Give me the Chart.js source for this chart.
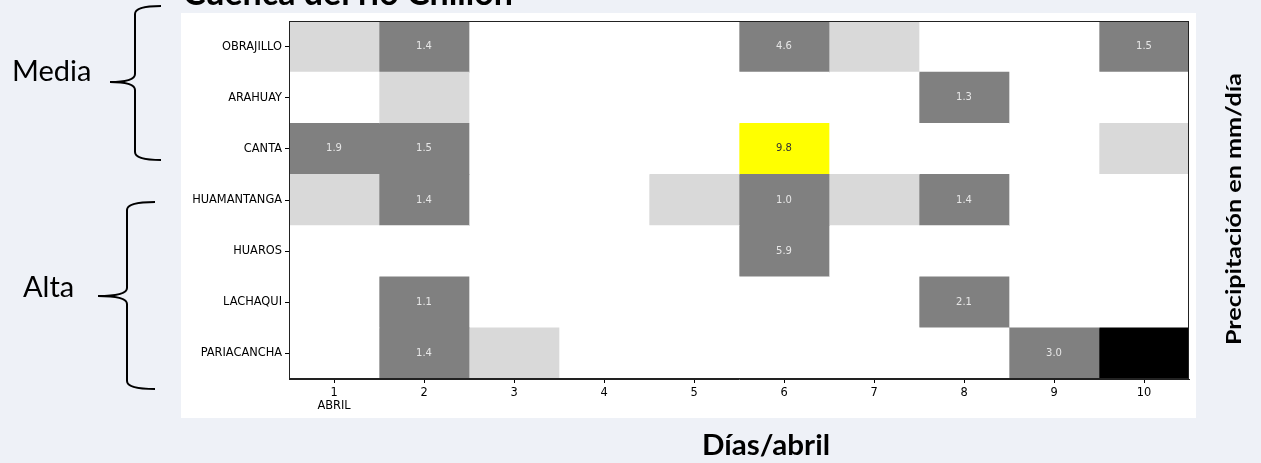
<!DOCTYPE html>
<html>
<head>
<meta charset="utf-8">
<script src="https://cdn.jsdelivr.net/npm/chart.js@4/dist/chart.umd.min.js"></script>
<style>
  html, body { margin: 0; padding: 0; }
  body { width: 1261px; height: 463px; background: #eef1f7; position: relative; overflow: hidden; }
  #panel { position: absolute; left: 181px; top: 13px; width: 1015px; height: 405px; background: #ffffff; }
  #c { position: absolute; left: 0; top: 0; }
  #ov { position: absolute; left: 0; top: 0; pointer-events: none; }
</style>
</head>
<body>
<div id="panel"></div>
<canvas id="c" width="1261" height="463" style="width:1261px;height:463px"></canvas>
<svg id="ov" width="1261" height="463" xmlns="http://www.w3.org/2000/svg">
  <text x="183" y="5" font-family="Lato" font-weight="bold" font-size="34" textLength="330" lengthAdjust="spacingAndGlyphs" fill="#000">Cuenca del río Chillón</text>
  <text x="12" y="81" font-family="Lato" font-size="29" fill="#000">Media</text>
  <text x="23" y="297" font-family="Lato" font-size="29" fill="#000">Alta</text>
  <path d="M161,6 Q135,6 135,14 L135,74 Q135,82 110,82 Q135,82 135,90 L135,152 Q135,160 161,160" fill="none" stroke="#000" stroke-width="2"/>
  <path d="M155,202 Q127,202 127,210 L127,288 Q127,296 98,296 Q127,296 127,304 L127,381 Q127,389 155,389" fill="none" stroke="#000" stroke-width="2"/>
  <text x="766" y="455" text-anchor="middle" font-family="Lato" font-weight="bold" font-size="28" textLength="128" lengthAdjust="spacingAndGlyphs" fill="#000">Días/abril</text>
  <text transform="translate(1241,209) rotate(-90)" text-anchor="middle" font-family="Lato" font-weight="bold" font-size="20" textLength="272" lengthAdjust="spacingAndGlyphs" fill="#000">Precipitación en mm/día</text>
</svg>
<script>
// ---- data ----
const stations = ['OBRAJILLO', 'ARAHUAY', 'CANTA', 'HUAMANTANGA', 'HUAROS', 'LACHAQUI', 'PARIACANCHA'];
const days = [1, 2, 3, 4, 5, 6, 7, 8, 9, 10];
const dayLabels = [['1', 'ABRIL'], '2', '3', '4', '5', '6', '7', '8', '9', '10'];
// mm/day per station, days 1..10 (null = sin dato)
const obrajillo   = [0.5, 1.4, 0, 0, 0, 4.6, 0.5, 0, 0, 1.5];
const arahuay     = [0, 0.5, 0, 0, 0, 0, 0, 1.3, 0, 0];
const canta       = [1.9, 1.5, 0, 0, 0, 9.8, 0, 0, 0, 0.5];
const huamantanga = [0.5, 1.4, 0, 0, 0.5, 1.0, 0.5, 1.4, 0, 0];
const huaros      = [0, 0, 0, 0, 0, 5.9, 0, 0, 0, 0];
const lachaqui    = [0, 1.1, 0, 0, 0, 0, 0, 2.1, 0, 0];
const pariacancha = [0, 1.4, 0.5, 0, 0, 0, 0, 0, 3.0, null];

const rows = [obrajillo, arahuay, canta, huamantanga, huaros, lachaqui, pariacancha];

function cellColor(v) {
  if (v === null) return '#000000';
  if (v <= 0) return '#ffffff';
  if (v < 1) return '#d9d9d9';
  if (v < 9) return '#808080';
  return '#ffff00';
}

const datasets = days.map((d, di) => ({
  label: 'Día ' + d,
  data: stations.map(() => [d - 0.5, d + 0.5]),
  values: rows.map(r => r[di]),
  backgroundColor: rows.map(r => cellColor(r[di])),
  borderWidth: 0,
  grouped: false,
  barPercentage: 1.0,
  categoryPercentage: 1.0
}));

const valueLabels = {
  id: 'valueLabels',
  afterDatasetsDraw(chart) {
    const ctx = chart.ctx;
    ctx.save();
    ctx.font = '10px "DejaVu Sans"';
    ctx.textAlign = 'center';
    ctx.textBaseline = 'middle';
    chart.data.datasets.forEach((ds, i) => {
      const meta = chart.getDatasetMeta(i);
      meta.data.forEach((bar, j) => {
        const v = ds.values[j];
        if (v === null || v < 1) return;
        const cx = (bar.x + bar.base) / 2;
        ctx.fillStyle = v >= 9 ? '#333333' : '#e6e6e6';
        ctx.fillText(v.toFixed(1), cx, bar.y);
      });
    });
    ctx.restore();
  }
};

const frame = {
  id: 'frame',
  afterDraw(chart) {
    const a = chart.chartArea, ctx = chart.ctx;
    ctx.save();
    ctx.strokeStyle = '#222';
    ctx.lineWidth = 1;
    ctx.strokeRect(Math.round(a.left) + 0.5, Math.round(a.top) + 0.5, Math.round(a.right - a.left) - 1, Math.round(a.bottom - a.top) - 1);
    ctx.restore();
  }
};

new Chart(document.getElementById('c'), {
  type: 'bar',
  data: { labels: stations, datasets },
  options: {
    indexAxis: 'y',
    responsive: false,
    animation: false,
    devicePixelRatio: 1,
    layout: { padding: { left: 181, top: 21, right: 72, bottom: 44 } },
    plugins: { legend: { display: false }, tooltip: { enabled: false }, title: { display: false } },
    scales: {
      x: {
        type: 'linear', min: 0.5, max: 10.5, offset: false,
        afterBuildTicks(scale) { scale.ticks = days.map(v => ({ value: v })); },
        afterFit(scale) { scale.height = 40; },
        grid: { drawOnChartArea: false, drawTicks: true, tickLength: 4, color: '#000' },
        border: { display: true, color: '#222' },
        ticks: {
          font: { family: 'DejaVu Sans', size: 11.4, lineHeight: 1.15 }, color: '#000', padding: 3, maxRotation: 0, autoSkip: false,
          callback(value) { const i = days.indexOf(value); return i >= 0 ? dayLabels[i] : ''; }
        }
      },
      y: {
        type: 'category', offset: true,
        afterFit(scale) { scale.width = 108; },
        grid: { drawOnChartArea: false, drawTicks: true, tickLength: 4, color: '#000', offset: false },
        border: { display: true, color: '#222' },
        ticks: { font: { family: 'DejaVu Sans', size: 11.4 }, color: '#000', padding: 3, autoSkip: false }
      }
    }
  },
  plugins: [valueLabels, frame]
});
</script>
</body>
</html>
